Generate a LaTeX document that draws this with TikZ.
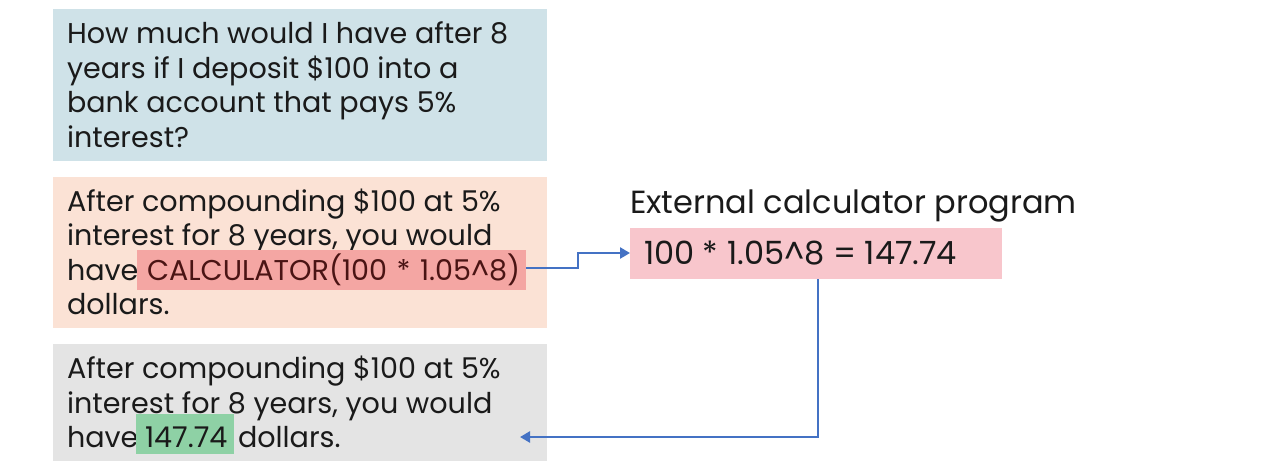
\documentclass[tikz,border=0pt]{standalone}
\usepackage{fontspec}
\setmainfont{Poppins}
\usetikzlibrary{arrows.meta}
\definecolor{bluebox}{HTML}{CFE2E8}
\definecolor{orangebox}{HTML}{FBE2D5}
\definecolor{graybox}{HTML}{E4E4E4}
\definecolor{redhl}{HTML}{F4A6A3}
\definecolor{calcbox}{HTML}{F8C6CC}
\definecolor{greenhl}{HTML}{8ED1A5}
\definecolor{conn}{HTML}{4472C4}
\definecolor{ink}{HTML}{1A1A1A}
\definecolor{redink}{HTML}{4A1414}
\begin{document}
\begin{tikzpicture}[x=1pt,y=-1pt,
  panel/.style={inner sep=0pt, outer sep=0pt},
  txt/.style={anchor=base west, inner sep=0pt, outer sep=0pt, text=ink, font=\fontsize{28.6}{34}\selectfont},
  bigtxt/.style={anchor=base west, inner sep=0pt, outer sep=0pt, text=ink, font=\fontsize{32}{38}\selectfont},
  hl/.style={anchor=base west, inner ysep=0pt, outer sep=0pt, font=\fontsize{28.6}{34}\selectfont, text height=30pt, text depth=10pt},
  conline/.style={draw=conn, line width=2.6pt},
  tip/.style={-{Triangle[length=10pt,width=11pt]}}
]
\useasboundingbox (0,0) rectangle (1280,474);
\fill[white] (0,0) rectangle (1280,474);
% panels
\node[panel, fill=bluebox, minimum width=494pt, minimum height=152pt, anchor=north west] (q) at (53,9) {};
\node[panel, fill=orangebox, minimum width=494pt, minimum height=151pt, anchor=north west] (a1) at (53,177) {};
\node[panel, fill=graybox, minimum width=494pt, minimum height=117pt, anchor=north west] (a2) at (53,344) {};
% box 1 text
\node[txt] (q1) at (67,43) {How much would I have after 8};
\node[txt] (q2) at (67,78) {years if I deposit \$100 into a};
\node[txt] (q3) at (67,112) {bank account that pays 5\%};
\node[txt] (q4) at (67,147) {interest?};
% box 2 text
\node[txt] (b1) at (67,211) {After compounding \$100 at 5\%};
\node[txt] (b2) at (67,245) {interest for 8 years, you would};
\node[txt] (b3) at (67,280) {have};
\node[hl, fill=redhl, text=redink, inner xsep=0pt, align=left, text width=389pt] (calc) at (137,280) {\hspace*{10pt}CALCULATOR(100 * 1.05\^{}8)};
\node[txt] (b4) at (67,314) {dollars.};
% box 3 text
\node[txt] (c1) at (67,378) {After compounding \$100 at 5\%};
\node[txt] (c2) at (67,413) {interest for 8 years, you would};
\node[txt] (c3) at (67,447) {have};
\node[hl, fill=greenhl, text=ink, inner xsep=0pt, text height=33pt, text depth=7pt, align=left, text width=98pt] (res) at (136,447) {\hspace*{9pt}147.74};
\node[txt, anchor=base west] (c4) at ([xshift=4pt]res.base east) {dollars.};
% external calculator
\node[bigtxt] (extlabel) at (630,213) {External calculator program};
\node[panel, fill=calcbox, minimum width=372pt, minimum height=51pt, anchor=north west] (ext) at (630,228) {};
\node[bigtxt] (exttext) at (644,264) {100 * 1.05\^{}8 = 147.74};
% connectors
\coordinate (k1) at (578,268);
\coordinate (k2) at (578,253);
\coordinate (m1) at (818,437);
\coordinate (endp) at (520,437);
\draw[conline, tip] (calc.east |- k1) -- (k1) -- (k2) -- (ext.west |- k2);
\draw[conline, tip] (ext.south -| m1) -- (m1) -- (endp);
\end{tikzpicture}
\end{document}
